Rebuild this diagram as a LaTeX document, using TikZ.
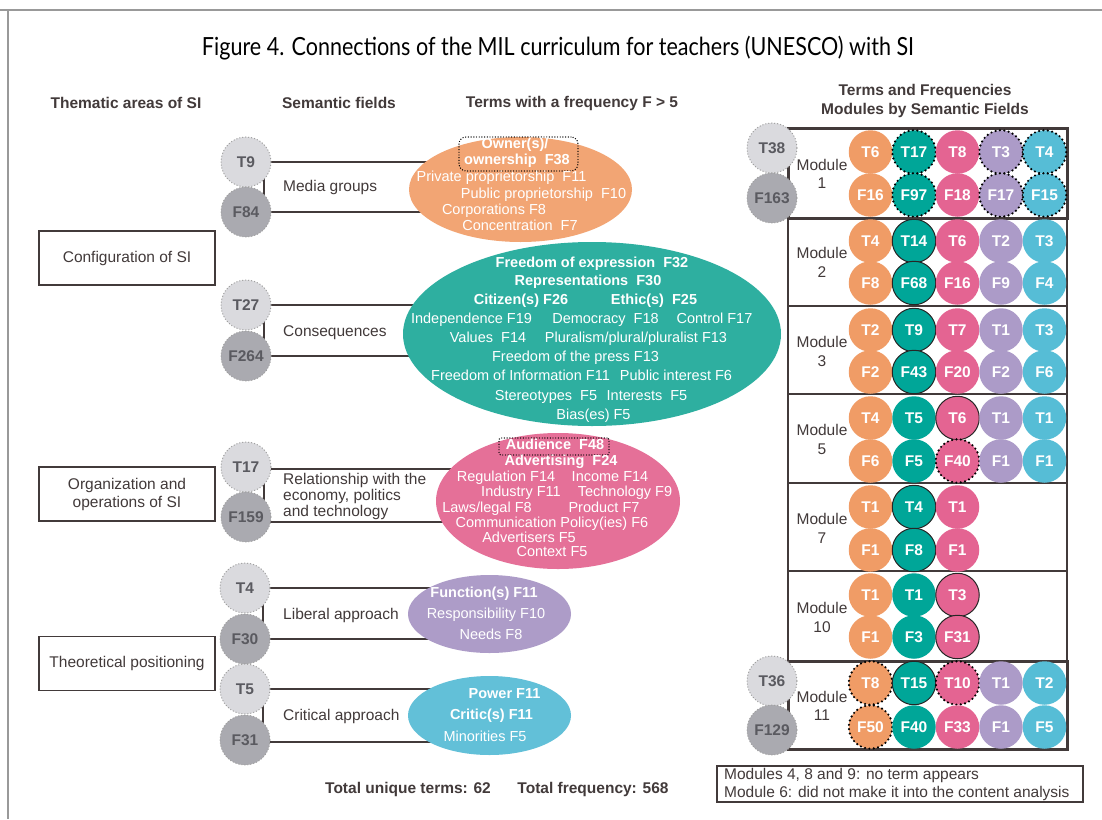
\documentclass[tikz,border=0pt]{standalone}
\usepackage{fontspec}
\setmainfont{Liberation Sans}
\newfontfamily\titlefont{Lato}
\usetikzlibrary{shapes.geometric,calc}
\pgfdeclarelayer{back}
\pgfdeclarelayer{bg}
\pgfsetlayers{back,bg,main}
\definecolor{ink}{RGB}{66,58,58}
\definecolor{cOr}{RGB}{240,156,102}
\definecolor{cTe}{RGB}{0,166,152}
\definecolor{cPi}{RGB}{228,100,146}
\definecolor{cPu}{RGB}{172,155,200}
\definecolor{cBl}{RGB}{86,189,214}
\definecolor{eOr}{RGB}{242,165,116}
\definecolor{eTe}{RGB}{46,175,160}
\definecolor{ePi}{RGB}{229,112,152}
\definecolor{ePu}{RGB}{173,156,200}
\definecolor{eBl}{RGB}{98,192,216}
\definecolor{gLight}{RGB}{218,218,222}
\definecolor{gDark}{RGB}{170,170,176}
\definecolor{gText}{RGB}{90,90,96}
\newcommand\fsz[2]{\fontsize{#1pt}{#2pt}\selectfont}
\newcommand\modrow[4]{%
  \foreach \cc/\vT/\vF/\sT/\sF [count=\i] in {#4} {
    \pgfmathsetmacro\xx{827+43.5*\i}
    \node[mc, fill=\cc, \sT] (#1T\i) at (\xx,#2) {\vT};
    \node[mc, fill=\cc, \sF] (#1F\i) at (\xx,#3) {\vF};
  }}
\begin{document}
\begin{tikzpicture}[x=1pt,y=-1pt,
  tcirc/.style={circle, minimum size=50pt, inner sep=0, fill=gLight, draw=gray!75, dotted, line width=1pt, font=\fsz{15.5}{18}\bfseries, text=gText},
  fcirc/.style={tcirc, fill=gDark},
  mc/.style={circle, minimum size=43.5pt, inner sep=0, font=\fsz{15.5}{18}\bfseries, text=white},
  pl/.style={},
  sb/.style={draw=black!85, line width=1pt},
  db/.style={draw=black, line width=2.4pt, dash pattern=on 0pt off 4.4pt, line cap=round},
  dbox/.style={draw=black, line width=1.4pt, dash pattern=on 0pt off 2.7pt, line cap=round, inner sep=0},
  lbl/.style={font=\fsz{15.5}{17}, text=ink, anchor=west, align=left, inner sep=0},
  et/.style={font=\fsz{14.5}{16}, text=white, inner sep=0, text height=10.5pt, text depth=3pt},
  eb/.style={et, font=\fsz{14.5}{16}\bfseries},
  hdr/.style={font=\fsz{15.5}{19}\bfseries, text=ink, align=center, inner sep=0},
  areabox/.style={draw=ink, line width=1.5pt, minimum width=176pt, minimum height=54pt, font=\fsz{15.5}{18}, text=ink, align=center, inner sep=0},
  ell/.style={ellipse, inner sep=0},
  conn/.style={draw=ink, line width=1.8pt},
  mbox/.style={draw=ink, line width=1.3pt, minimum width=279pt, inner sep=0},
  mlab/.style={font=\fsz{15.5}{18.5}, text=ink, align=center, inner sep=0}]
\useasboundingbox (0,0) rectangle (1102,819);
\begin{pgfonlayer}{back}
\fill[white] (0,0) rectangle (1102,819);
\end{pgfonlayer}
% frame
\draw[gray!80, line width=1.3pt] (0,10) -- (1102,10);
\draw[gray!80, line width=1.3pt] (8,10) -- (8,819);
% title
\node[inner sep=0, text=black] (title) at (558,48) {\resizebox{712pt}{\height}{\titlefont\fsz{25}{28}Figure 4. Connections of the MIL curriculum for teachers (UNESCO) with SI}};
% headers
\node[hdr] (h1) at (126,103) {Thematic areas of SI};
\node[hdr] (h2) at (339,103) {Semantic fields};
\node[hdr] (h3) at (572,103) {Terms with a frequency F > 5};
\node[hdr] (h4) at (925,100.5) {Terms and Frequencies\\Modules by Semantic Fields};
% thematic areas
\node[areabox] (A1) at (127,258) {Configuration of SI};
\node[areabox] (A2) at (127,494) {Organization and\\operations of SI};
\node[areabox] (A3) at (127,663.5) {Theoretical positioning};
% ellipses
\node[ell, fill=eOr, minimum width=223pt, minimum height=105pt] (E1) at (520.5,189.5) {};
\node[ell, fill=eTe, minimum width=378pt, minimum height=184pt] (E2) at (592,334) {};
\node[ell, fill=ePi, minimum width=244pt, minimum height=136pt] (E3) at (558,501) {};
\node[ell, fill=ePu, minimum width=163pt, minimum height=78pt] (E4) at (489.5,614) {};
\node[ell, fill=eBl, minimum width=163pt, minimum height=79pt] (E5) at (489.5,715.5) {};
% semantic field circles
\node[tcirc] (G1T) at (246,162) {T9};
\node[fcirc] (G1F) at (246,212) {F84};
\node[tcirc] (G2T) at (246,305) {T27};
\node[fcirc] (G2F) at (246,356) {F264};
\node[tcirc] (G3T) at (246,467) {T17};
\node[fcirc] (G3F) at (246,517) {F159};
\node[tcirc] (G4T) at (245,588) {T4};
\node[fcirc] (G4F) at (245,639) {F30};
\node[tcirc] (G5T) at (245,689) {T5};
\node[fcirc] (G5F) at (245,740) {F31};
\begin{pgfonlayer}{bg}
\foreach \g/\e/\dt/\df in {G1/E1/0/0,G2/E2/0/0,G3/E3/-2/-5,G4/E4/0/0,G5/E5/0/-2}{
  \draw[conn] ([yshift=\dt pt]\g T.center) -- ([yshift=\dt pt]\g T.center -| \e.center);
  \draw[conn] ([yshift=\df pt]\g F.center) -- ([yshift=\df pt]\g F.center -| \e.center);
  \draw[conn] ([xshift=18pt]\g T.center) -- ([xshift=18pt]\g F.center);
}
\end{pgfonlayer}
% semantic field labels
\node[lbl] (L1) at (283,187) {Media groups};
\node[lbl] (L2) at (283,333) {Consequences};
\node[lbl, font=\fsz{15.5}{16}] (L3) at (283,496) {Relationship with the\\economy, politics\\and technology};
\node[lbl] (L4) at (283,615) {Liberal approach};
\node[lbl] (L5) at (283,716) {Critical approach};
% orange texts
\node[dbox, minimum width=119pt, minimum height=34pt, rounded corners=7pt] (OB) at (518.5,154) {};
\node[eb] (o1) at (515,145) {Owner(s)/};
\node[eb] (o2) at (517,161) {ownership~ F38};
\node[et] (o3) at (501.5,178) {Private proprietorship~ F11};
\node[et] (o4) at (543.5,195) {Public proprietorship~ F10};
\node[et] (o5) at (494,211) {Corporations F8};
\node[et] (o6) at (520,227) {Concentration~ F7};
% teal texts
\node[eb] (t1) at (592,264) {Freedom of expression~ F32};
\node[eb] (t2) at (588,282) {Representations~ F30};
\node[eb] (t3) at (521,301) {Citizen(s) F26};
\node[eb] (t4) at (654,301) {Ethic(s)~ F25};
\node[et] (t5) at (471.5,320) {Independence F19};
\node[et] (t6) at (605.5,320) {Democracy~ F18};
\node[et] (t7) at (714.5,320) {Control F17};
\node[et] (t8) at (488,339) {Values~ F14};
\node[et] (t9) at (636,339) {Pluralism/plural/pluralist F13};
\node[et] (t10) at (575.5,358) {Freedom of the press F13};
\node[et] (t11) at (520.5,377) {Freedom of Information F11};
\node[et] (t12) at (676,377) {Public interest F6};
\node[et] (t13) at (546,397) {Stereotypes~ F5};
\node[et] (t14) at (647,397) {Interests~ F5};
\node[et] (t15) at (593.5,416) {Bias(es) F5};
% pink texts
\node[dbox, minimum width=110pt, minimum height=17pt, rounded corners=2pt] (AB) at (554,446.5) {};
\node[eb] (p1) at (555,446) {Audience~ F48};
\node[eb] (p2) at (561,462) {Advertising~ F24};
\node[et] (p3) at (506,478) {Regulation F14};
\node[et] (p4) at (610,478) {Income F14};
\node[et] (p5) at (521,493) {Industry F11};
\node[et] (p6) at (625,493) {Technology F9};
\node[et] (p7) at (487,509) {Laws/legal F8};
\node[et] (p8) at (604,509) {Product F7};
\node[et] (p9) at (552,524) {Communication Policy(ies) F6};
\node[et] (p10) at (529,539) {Advertisers F5};
\node[et] (p11) at (552,553) {Context F5};
% purple texts
\node[eb] (u1) at (484,594) {Function(s) F11};
\node[et] (u2) at (486,615) {Responsibility F10};
\node[et] (u3) at (491,636) {Needs F8};
% blue texts
\node[eb] (b1) at (504.5,695) {Power F11};
\node[eb] (b2) at (491.5,716) {Critic(s) F11};
\node[et] (b3) at (485,738) {Minorities F5};
% totals
\node[hdr] (tot1) at (408,789) {Total unique terms: 62};
\node[hdr] (tot2) at (593,789) {Total frequency: 568};
% module boxes
\node[mbox, minimum height=88pt] (M2) at (927.5,262) {};
\node[mbox, minimum height=88pt] (M3) at (927.5,350) {};
\node[mbox, minimum height=89pt] (M5) at (927.5,438.5) {};
\node[mbox, minimum height=88pt] (M7) at (927.5,527) {};
\node[mbox, minimum height=90pt] (M10) at (927.5,616) {};
\node[mbox, line width=3pt, minimum height=90pt] (M1) at (927.5,173) {};
\node[mbox, line width=3pt, minimum height=88pt] (M11) at (927.5,705) {};
% module labels
\node[mlab] (M1l) at (822,174) {Module\\1};
\node[mlab] (M2l) at (822,262.5) {Module\\2};
\node[mlab] (M3l) at (822,351.5) {Module\\3};
\node[mlab] (M5l) at (822,439.5) {Module\\5};
\node[mlab] (M7l) at (822,528.5) {Module\\7};
\node[mlab] (M10l) at (822,617.5) {Module\\10};
\node[mlab] (M11l) at (822,706) {Module\\11};
% totals circles for modules 1 and 11
\node[tcirc] (R1T) at (772,148) {T38};
\node[fcirc] (R1F) at (772,198) {F163};
\node[tcirc] (R11T) at (772,681) {T36};
\node[fcirc] (R11F) at (772,730) {F129};
% module circles
\modrow{m1}{152}{195}{cOr/T6/F16/pl/pl, cTe/T17/F97/db/db, cPi/T8/F18/pl/pl, cPu/T3/F17/db/db, cBl/T4/F15/db/db}
\modrow{m2}{241}{283}{cOr/T4/F8/pl/pl, cTe/T14/F68/sb/sb, cPi/T6/F16/pl/pl, cPu/T2/F9/pl/pl, cBl/T3/F4/pl/pl}
\modrow{m3}{330}{372}{cOr/T2/F2/pl/pl, cTe/T9/F43/sb/sb, cPi/T7/F20/pl/pl, cPu/T1/F2/pl/pl, cBl/T3/F6/pl/pl}
\modrow{m5}{418}{461}{cOr/T4/F6/pl/pl, cTe/T5/F5/pl/pl, cPi/T6/F40/sb/db, cPu/T1/F1/pl/pl, cBl/T1/F1/pl/pl}
\modrow{m7}{507}{550}{cOr/T1/F1/pl/pl, cTe/T4/F8/sb/sb, cPi/T1/F1/pl/pl}
\modrow{m10}{595}{637}{cOr/T1/F1/pl/pl, cTe/T1/F3/pl/pl, cPi/T3/F31/sb/sb}
\modrow{m11}{683}{727}{cOr/T8/F50/db/db, cTe/T15/F40/sb/pl, cPi/T10/F33/db/pl, cPu/T1/F1/pl/pl, cBl/T2/F5/pl/pl}
% notes
\node[draw=ink, line width=1.2pt, minimum width=366pt, minimum height=36pt, inner sep=0] (notes) at (900,784) {};
\node[lbl, font=\fsz{15.5}{18}] (notestxt) at (724,784) {Modules 4, 8 and 9: no term appears\\Module 6: did not make it into the content analysis};
\end{tikzpicture}
\end{document}
